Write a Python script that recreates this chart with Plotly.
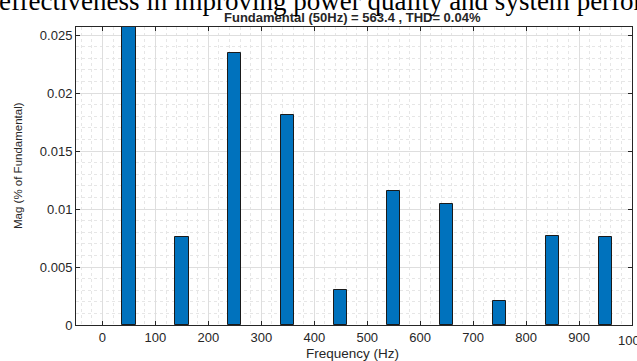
import plotly.graph_objects as go

freqs = [50, 150, 250, 350, 450, 550, 650, 750, 850, 950]
mags = [0.0262, 0.0076, 0.02345, 0.0181, 0.0030, 0.01155, 0.0104, 0.0021, 0.0077, 0.0076]
xticks = [0, 100, 200, 300, 400, 500, 600, 700, 800, 900, 1000]
yticks = [0, 0.005, 0.01, 0.015, 0.02, 0.025]
ytick_text = ["0", "0.005", "0.01", "0.015", "0.02", "0.025"]

W, H = 637, 361
L, R, T, B = 76, 5, 27, 36
pw = W - L - R
ph = H - T - B

txt = "#262626"
sans = "Liberation Sans, Arial"
fig = go.Figure(go.Bar(
    x=freqs, y=mags, width=25,
    marker=dict(color="#0072BD", line=dict(color="#1a1a1a", width=1)),
))

axis_common = dict(
    showline=True, linecolor="#262626", linewidth=1, mirror="ticks",
    ticks="inside", ticklen=4, tickcolor="#262626",
    showgrid=True, gridcolor="#dedede", gridwidth=1,
    zeroline=False, automargin=False,
    tickfont=dict(family=sans, size=13, color=txt),
)

fig.update_xaxes(
    range=[-50, 1000], tickvals=xticks, ticktext=[str(v) for v in xticks],
    minor=dict(dtick=20, tick0=0, showgrid=True, gridcolor="#e6e6e6", griddash="dot", ticks=""),
    **axis_common,
)
fig.update_yaxes(
    range=[0, 0.0257], tickvals=yticks, ticktext=ytick_text,
    minor=dict(dtick=0.001, tick0=0, showgrid=True, gridcolor="#e6e6e6", griddash="dot", ticks=""),
    **axis_common,
)

def px_x(p):
    return (p - L) / pw

def px_y(p):
    return (H - B - p) / ph

# axis titles
fig.add_annotation(xref="paper", yref="paper", x=px_x(352), y=px_y(353),
                   xanchor="center", yanchor="middle", showarrow=False,
                   text="Frequency (Hz)", font=dict(family=sans, size=13.5, color=txt))
fig.add_annotation(xref="paper", yref="paper", x=px_x(18), y=px_y(166),
                   xanchor="center", yanchor="middle", showarrow=False, textangle=-90,
                   text="Mag (% of Fundamental)", font=dict(family=sans, size=11.5, color=txt))
# cut-off 1000 label at right
fig.add_annotation(xref="x", yref="paper", x=1000, y=px_y(340),
                   xanchor="center", yanchor="middle", showarrow=False,
                   text="1000", font=dict(family=sans, size=13, color=txt))

fig.add_annotation(
    xref="paper", yref="paper",
    x=px_x(352), y=px_y(18), xanchor="center", yanchor="middle",
    text="<b>Fundamental (50Hz) = 563.4 , THD= 0.04%</b>",
    showarrow=False, font=dict(family=sans, size=13, color=txt),
)
fig.add_annotation(
    xref="paper", yref="paper",
    x=px_x(-3), y=px_y(1), xanchor="left", yanchor="middle",
    text="effectiveness in improving power quality and system performance",
    showarrow=False, font=dict(family="Liberation Serif, Times New Roman", size=27, color="#000"),
)

fig.update_layout(
    width=W, height=H,
    margin=dict(l=L, r=R, t=T, b=B, autoexpand=False),
    paper_bgcolor="white", plot_bgcolor="white",
    showlegend=False, bargap=0,
)
fig.write_html("out.html", config={"displayModeBar": False},
               post_script="document.body.style.margin='0px';document.body.style.overflow='hidden';")
